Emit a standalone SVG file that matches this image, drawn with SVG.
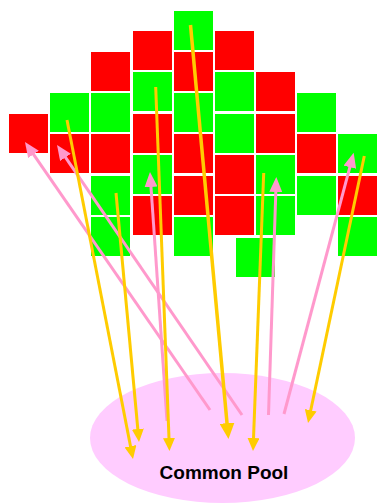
<svg xmlns="http://www.w3.org/2000/svg" width="377" height="504" viewBox="0 0 377 504">
<style>
.r{fill:#FF0000}
.g{fill:#00FF00}
.y{stroke:#FFCC00;stroke-width:3;fill:none;marker-end:url(#ay)}
.yb{stroke:#FFCC00;stroke-width:3.5;fill:none;marker-end:url(#ayb)}
.p{stroke:#FF99CC;stroke-width:3;fill:none;marker-end:url(#ap)}
.lbl{font-family:"Liberation Sans",Arial,sans-serif;font-weight:bold;font-size:19px;fill:#000}
</style>
<defs>
<marker id="ay" markerUnits="userSpaceOnUse" markerWidth="14" markerHeight="12" refX="3" refY="6" orient="auto"><path d="M0,0 L13,6 L0,12 z" fill="#FFCC00"/></marker>
<marker id="ayb" markerUnits="userSpaceOnUse" markerWidth="17" markerHeight="15" refX="3" refY="7.5" orient="auto"><path d="M0,0 L16,7.5 L0,15 z" fill="#FFCC00"/></marker>
<marker id="ap" markerUnits="userSpaceOnUse" markerWidth="16" markerHeight="13" refX="3" refY="6.5" orient="auto"><path d="M0,0 L15,6.5 L0,13 z" fill="#FF99CC"/></marker>
</defs>
<rect width="377" height="504" fill="#fff"/>
<g id="pool"><ellipse cx="222.5" cy="438" rx="132.5" ry="65" fill="#FFCCFF"/><text class="lbl" x="224" y="479" text-anchor="middle">Common Pool</text></g>
<g id="cells">
<g id="c0-114"><rect class="r" x="9" y="114" width="39" height="39"/></g>
<g id="c1-93"><rect class="g" x="50" y="93" width="39" height="39"/></g>
<g id="c1-134"><rect class="r" x="50" y="134" width="39" height="39"/></g>
<g id="c2-52"><rect class="r" x="91" y="52" width="39" height="39"/></g>
<g id="c2-93"><rect class="g" x="91" y="93" width="39" height="39"/></g>
<g id="c2-134"><rect class="r" x="91" y="134" width="39" height="39"/></g>
<g id="c2-176"><rect class="g" x="91" y="176" width="39" height="39"/></g>
<g id="c2-217"><rect class="g" x="91" y="217" width="39" height="39"/></g>
<g id="c3-31"><rect class="r" x="133" y="31" width="39" height="39"/></g>
<g id="c3-72"><rect class="g" x="133" y="72" width="39" height="39"/></g>
<g id="c3-114"><rect class="r" x="133" y="114" width="39" height="39"/></g>
<g id="c3-155"><rect class="g" x="133" y="155" width="39" height="39"/></g>
<g id="c3-196"><rect class="r" x="133" y="196" width="39" height="39"/></g>
<g id="c4-11"><rect class="g" x="174" y="11" width="39" height="39"/></g>
<g id="c4-52"><rect class="r" x="174" y="52" width="39" height="39"/></g>
<g id="c4-93"><rect class="g" x="174" y="93" width="39" height="39"/></g>
<g id="c4-134"><rect class="r" x="174" y="134" width="39" height="39"/></g>
<g id="c4-176"><rect class="r" x="174" y="176" width="39" height="39"/></g>
<g id="c4-217"><rect class="g" x="174" y="217" width="39" height="39"/></g>
<g id="c5-31"><rect class="r" x="215" y="31" width="39" height="39"/></g>
<g id="c5-72"><rect class="g" x="215" y="72" width="39" height="39"/></g>
<g id="c5-114"><rect class="g" x="215" y="114" width="39" height="39"/></g>
<g id="c5-155"><rect class="r" x="215" y="155" width="39" height="39"/></g>
<g id="c5-196"><rect class="r" x="215" y="196" width="39" height="39"/></g>
<g id="c5b-238"><rect class="g" x="236" y="238" width="39" height="39"/></g>
<g id="c6-72"><rect class="r" x="256" y="72" width="39" height="39"/></g>
<g id="c6-114"><rect class="r" x="256" y="114" width="39" height="39"/></g>
<g id="c6-155"><rect class="g" x="256" y="155" width="39" height="39"/></g>
<g id="c6-196"><rect class="g" x="256" y="196" width="39" height="39"/></g>
<g id="c7-93"><rect class="g" x="297" y="93" width="39" height="39"/></g>
<g id="c7-134"><rect class="r" x="297" y="134" width="39" height="39"/></g>
<g id="c7-176"><rect class="g" x="297" y="176" width="39" height="39"/></g>
<g id="c8-134"><rect class="g" x="338" y="134" width="39" height="39"/></g>
<g id="c8-176"><rect class="r" x="338" y="176" width="39" height="39"/></g>
<g id="c8-217"><rect class="g" x="338" y="217" width="39" height="39"/></g>
</g>
<g id="connectors">
<line class="p" x1="210" y1="410" x2="31.8" y2="151.9"/>
<line class="p" x1="242" y1="415" x2="63.8" y2="154.9"/>
<line class="p" x1="167" y1="421" x2="150.8" y2="184"/>
<line class="p" x1="268.5" y1="415" x2="275.9" y2="189"/>
<line class="p" x1="284" y1="414" x2="350.6" y2="164.3"/>
<line class="y" x1="67" y1="120" x2="131.1" y2="449.2"/>
<line class="y" x1="116" y1="193" x2="138.1" y2="432"/>
<line class="y" x1="155.7" y1="87" x2="169.1" y2="441"/>
<line class="yb" x1="190.5" y1="25" x2="227.3" y2="426.1"/>
<line class="y" x1="263.7" y1="173" x2="253.4" y2="441"/>
<line class="y" x1="364.3" y1="156" x2="310.1" y2="413.2"/>
</g>
</svg>
